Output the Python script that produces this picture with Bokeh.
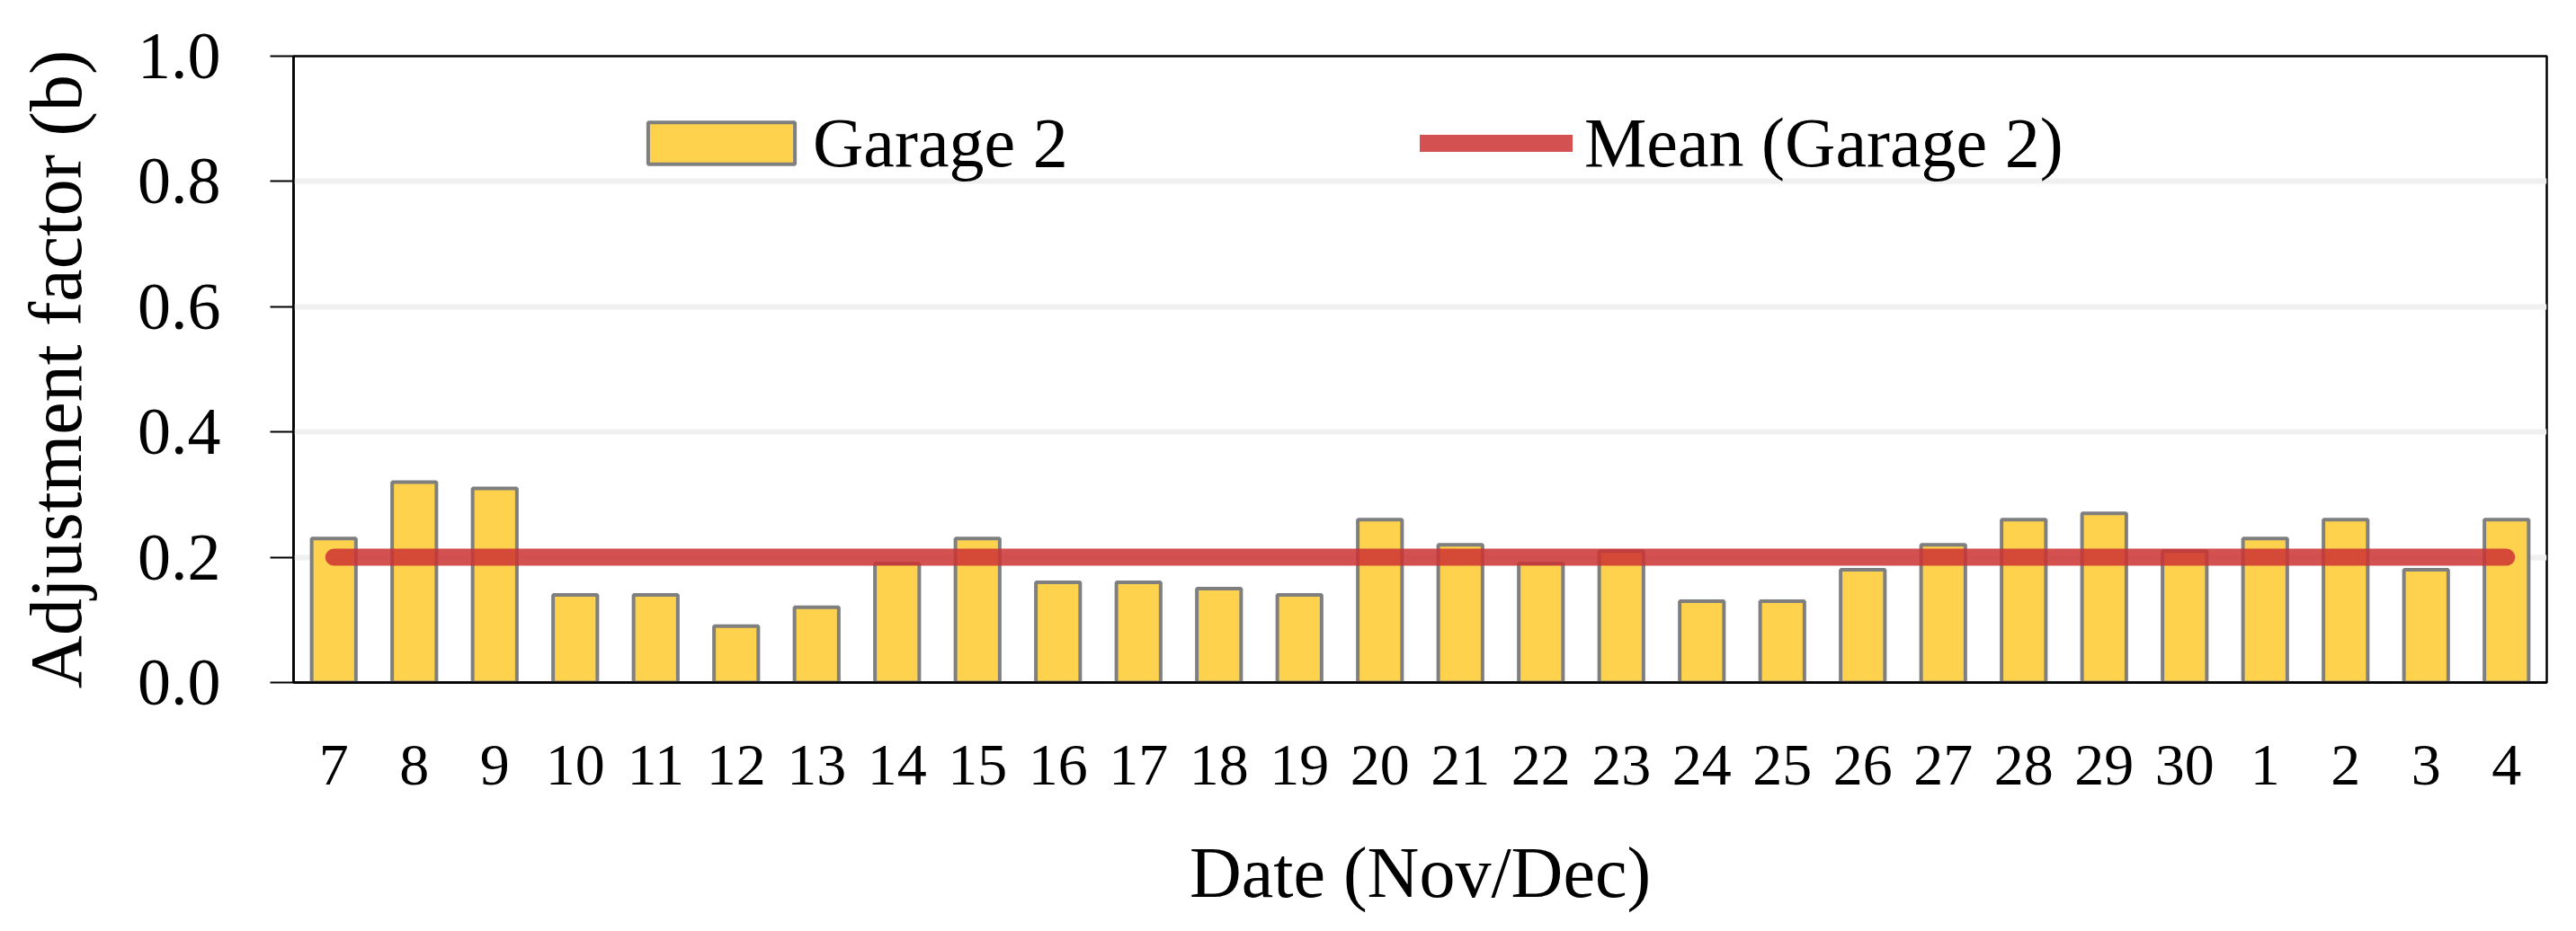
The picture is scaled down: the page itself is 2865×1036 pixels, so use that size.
from bokeh.plotting import figure
from bokeh.models import (Range1d, FactorRange, FixedTicker, PrintfTickFormatter,
                          Legend, LegendItem, ColumnDataSource)
from bokeh.embed import file_html
from bokeh.resources import INLINE

# ---- data ----
dates = ["7", "8", "9", "10", "11", "12", "13", "14", "15", "16", "17", "18", "19", "20",
         "21", "22", "23", "24", "25", "26", "27", "28", "29", "30", "1", "2", "3", "4"]
garage2 = [0.23, 0.32, 0.31, 0.14, 0.14, 0.09, 0.12, 0.19, 0.23, 0.16, 0.16, 0.15, 0.14, 0.26,
           0.22, 0.19, 0.21, 0.13, 0.13, 0.18, 0.22, 0.26, 0.27, 0.21, 0.23, 0.26, 0.18, 0.26]
mean_garage2 = 0.20
y_ticks = [0.0, 0.2, 0.4, 0.6, 0.8, 1.0]

FONT = "Liberation Serif"

src = ColumnDataSource(dict(date=dates, value=garage2))

p = figure(width=2849, height=1020,
           x_range=FactorRange(factors=dates, range_padding=0),
           y_range=Range1d(0, 1),
           output_backend="svg", toolbar_location=None,
           min_border_left=326, min_border_right=17,
           min_border_top=62, min_border_bottom=261)

bars = p.vbar(x="date", top="value", width=0.55, source=src,
              fill_color="#FFD24D", line_color="#7F7F7F", line_width=4)

mean_line = p.line(x=[dates[0], dates[-1]], y=[mean_garage2, mean_garage2],
                   line_width=19, line_color="#CD3234", line_alpha=0.85,
                   line_cap="round")

# axes
p.xaxis.axis_label = "Date (Nov/Dec)"
p.yaxis.axis_label = "Adjustment factor (b)"
for ax in (p.xaxis[0], p.yaxis[0]):
    ax.axis_line_color = "black"
    ax.axis_line_width = 2.5
    ax.major_label_text_font = FONT
    ax.axis_label_text_font = FONT
    ax.axis_label_text_font_style = "normal"
    ax.axis_label_text_color = "black"
    ax.major_label_text_color = "black"
    ax.minor_tick_line_color = None

p.xaxis.major_tick_out = 0
p.xaxis.major_tick_in = 0
p.xaxis.major_tick_line_color = None
p.xaxis.major_label_text_font_size = "66px"
p.xaxis.major_label_standoff = 70
p.xaxis.axis_label_text_font_size = "80px"
p.xaxis.axis_label_standoff = 51

p.yaxis.ticker = FixedTicker(ticks=y_ticks)
p.yaxis.formatter = PrintfTickFormatter(format="%.1f")
p.yaxis.major_tick_out = 26
p.yaxis.major_tick_in = 0
p.yaxis.major_tick_line_color = "black"
p.yaxis.major_tick_line_width = 2
p.yaxis.major_label_text_font_size = "74px"
p.yaxis.major_label_standoff = 55
p.yaxis.axis_label_text_font_size = "82px"
p.yaxis.axis_label_standoff = 42

p.xgrid.grid_line_color = None
p.ygrid.ticker = FixedTicker(ticks=y_ticks)
p.ygrid.grid_line_color = "#F0F0F0"
p.ygrid.grid_line_width = 6

p.outline_line_color = "black"
p.outline_line_width = 2.5
p.background_fill_color = "white"
p.border_fill_color = "white"

common = dict(orientation="horizontal", border_line_color=None,
              background_fill_alpha=0, padding=0, margin=0,
              label_text_font=FONT, label_text_font_size="78px",
              label_text_color="black")

legend_bar = Legend(items=[LegendItem(label="Garage 2", renderers=[bars])],
                    location=(374, 555), label_standoff=0,
                    glyph_width=204, glyph_height=58, **common)
legend_mean = Legend(items=[LegendItem(label="Mean (Garage 2)", renderers=[mean_line])],
                     location=(1253, 555), label_standoff=13,
                     glyph_width=170, glyph_height=58, **common)
p.add_layout(legend_bar)
p.add_layout(legend_mean)

open("out.html", "w").write(file_html(p, INLINE))
